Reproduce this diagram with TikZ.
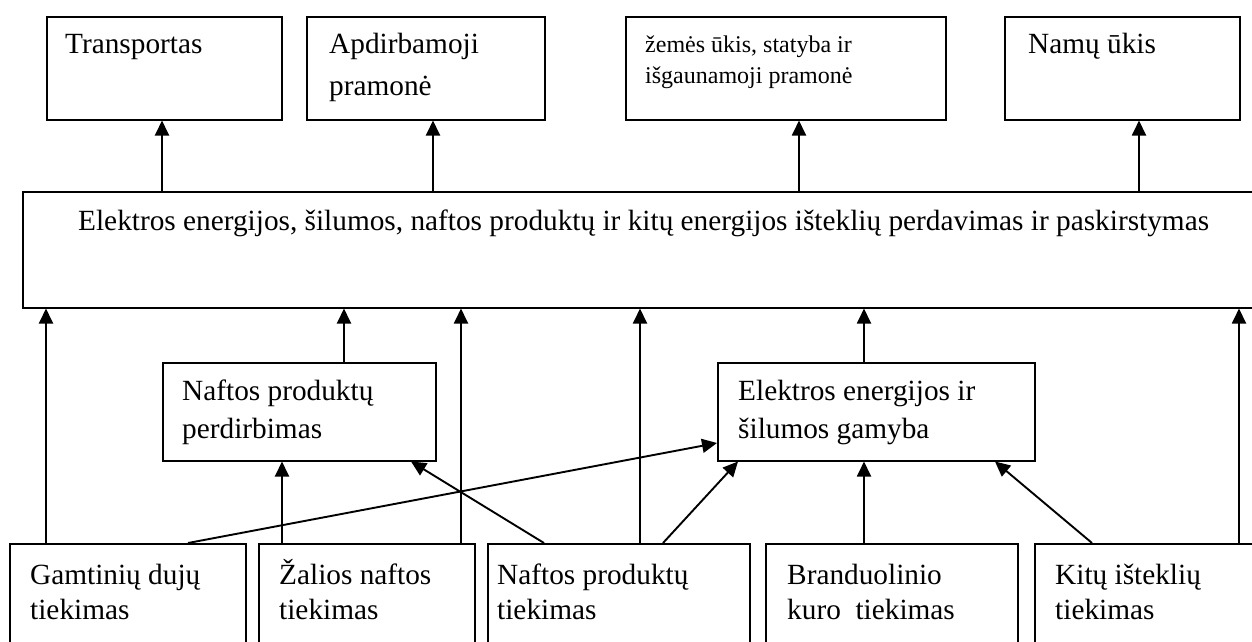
\documentclass[tikz,border=0pt]{standalone}
\usepackage{fontspec}
\setmainfont{Liberation Serif}
\usetikzlibrary{arrows.meta,calc}
\begin{document}
\begin{tikzpicture}[x=1pt,y=-1pt,
  box/.style={draw, line width=1.5pt, inner sep=0pt, anchor=north west},
  txt/.style={anchor=base west, inner sep=0pt, font=\fontsize{29.3}{36}\selectfont},
  stxt/.style={anchor=base west, inner sep=0pt, font=\fontsize{24}{29}\selectfont},
  arr/.style={line width=1.9pt, -{Triangle[length=15pt,width=14pt]}}]
\useasboundingbox (0,0) rectangle (1252,641);
\clip (0,0) rectangle (1252,641);

% top boxes
\node[box, minimum width=235pt, minimum height=103pt] (tr) at (46,16) {};
\node[box, minimum width=238pt, minimum height=103pt] (ap) at (306,16) {};
\node[box, minimum width=320pt, minimum height=103pt] (ze) at (625,16) {};
\node[box, minimum width=235pt, minimum height=103pt] (na) at (1004,16) {};
\node[txt] (trt) at (65,53) {Transportas};
\node[txt] (apt1) at (329,53) {Apdirbamoji};
\node[txt] (apt2) at (329,95) {pramonė};
\node[stxt] (zet1) at (645,52) {žemės ūkis, statyba ir};
\node[stxt] (zet2) at (645,83) {išgaunamoji pramonė};
\node[txt] (nat) at (1028,53) {Namų ūkis};

% wide box
\node[box, minimum width=1250pt, minimum height=116pt] (wd) at (22,191) {};
\node[txt] (wdt) at (78,230) {Elektros energijos, šilumos, naftos produktų ir kitų energijos išteklių perdavimas ir paskirstymas};

% middle boxes
\node[box, minimum width=273pt, minimum height=98pt] (pe) at (162,362) {};
\node[box, minimum width=317pt, minimum height=98pt] (el) at (717,362) {};
\node[txt] (pet1) at (182,400) {Naftos produktų};
\node[txt] (pet2) at (182,438) {perdirbimas};
\node[txt] (elt1) at (738,400) {Elektros energijos ir};
\node[txt] (elt2) at (738,438) {šilumos gamyba};

% bottom boxes
\node[box, minimum width=236pt, minimum height=120pt] (gd) at (9,543) {};
\node[box, minimum width=216pt, minimum height=120pt] (za) at (258,543) {};
\node[box, minimum width=262pt, minimum height=120pt] (np) at (487,543) {};
\node[box, minimum width=252pt, minimum height=120pt] (br) at (765,543) {};
\node[box, minimum width=240pt, minimum height=120pt] (ki) at (1034,543) {};
\node[txt] (gdt1) at (30,584) {Gamtinių dujų};
\node[txt] (gdt2) at (30,619) {tiekimas};
\node[txt] (zat1) at (279,584) {Žalios naftos};
\node[txt] (zat2) at (279,619) {tiekimas};
\node[txt] (npt1) at (497,584) {Naftos produktų};
\node[txt] (npt2) at (497,619) {tiekimas};
\node[txt] (brt1) at (787,584) {Branduolinio};
\node[txt] (brt2) at (787,619) {kuro~ tiekimas};
\node[txt] (kit1) at (1055,584) {Kitų išteklių};
\node[txt] (kit2) at (1055,619) {tiekimas};

% x positions of vertical connectors
\coordinate (v1) at (162,0);
\coordinate (v2) at (433,0);
\coordinate (v3) at (799,0);
\coordinate (v4) at (1139,0);
\coordinate (u1) at (46,0);
\coordinate (u2) at (344,0);
\coordinate (u3) at (461,0);
\coordinate (u4) at (640,0);
\coordinate (u5) at (864,0);
\coordinate (u6) at (1239,0);
\coordinate (u7) at (282,0);

% wide box to top boxes
\draw[arr] (wd.north -| v1) -- (tr.south -| v1);
\draw[arr] (wd.north -| v2) -- (ap.south -| v2);
\draw[arr] (wd.north -| v3) -- (ze.south -| v3);
\draw[arr] (wd.north -| v4) -- (na.south -| v4);

% into wide box
\draw[arr] (gd.north -| u1) -- (wd.south -| u1);
\draw[arr] (pe.north -| u2) -- (wd.south -| u2);
\draw[arr] (za.north -| u3) -- (wd.south -| u3);
\draw[arr] (np.north -| u4) -- (wd.south -| u4);
\draw[arr] (el.north -| u5) -- (wd.south -| u5);
\draw[arr] (ki.north -| u6) -- (wd.south -| u6);

% into middle boxes
\draw[arr] (za.north -| u7) -- (pe.south -| u7);
\draw[arr] (br.north -| u5) -- (el.south -| u5);
\draw[arr] ($(gd.north west)+(179,0)$) -- ($(el.north west)+(0,81)$);
\draw[arr] ($(np.north west)+(57,0)$) -- ($(pe.south west)+(249,0)$);
\draw[arr] ($(np.north west)+(176,0)$) -- ($(el.south west)+(21,0)$);
\draw[arr] ($(ki.north west)+(58,0)$) -- ($(el.south west)+(278,0)$);
\end{tikzpicture}
\end{document}
